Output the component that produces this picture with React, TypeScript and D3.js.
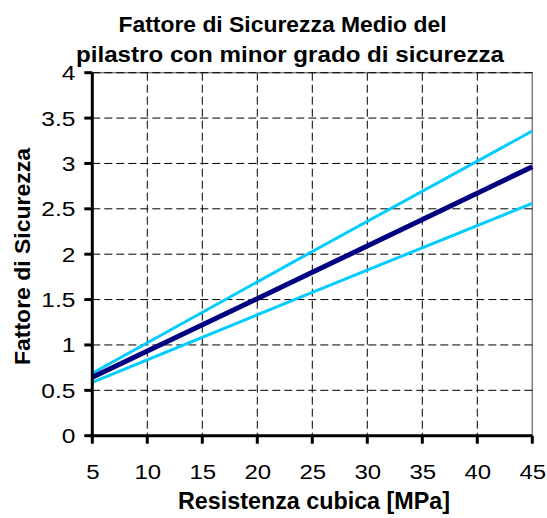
import React from "react";
import * as d3 from "d3";

const xTicks = [5, 10, 15, 20, 25, 30, 35, 40, 45];
const yTicks = [0, 0.5, 1, 1.5, 2, 2.5, 3, 3.5, 4];
const resistenza = [5, 25, 45];
const fsMedio = [0.643, 1.8, 2.964];
const fsSuperiore = [0.688, 2.03, 3.357];
const fsInferiore = [0.588, 1.58, 2.561];
const titleLines = ["Fattore di Sicurezza Medio del", "pilastro con minor grado di sicurezza"];
const xTitle = "Resistenza cubica [MPa]";
const yTitle = "Fattore di Sicurezza";

const W = 547;
const H = 518;
const left = 92.3;
const right = 532.3;
const top = 72.7;
const bottom = 435.7;

export default function App() {
  const x = d3.scaleLinear().domain([5, 45]).range([left, right]);
  const y = d3.scaleLinear().domain([0, 4]).range([bottom, top]);
  const line = d3
    .line<[number, number]>()
    .x((d) => x(d[0]))
    .y((d) => y(d[1]));
  const mk = (vals: number[]) => line(resistenza.map((r, i) => [r, vals[i]] as [number, number])) || "";
  const font = "'Liberation Sans', Arial, sans-serif";
  const sx = 1.17;

  return (
    <svg
      width={W}
      height={H}
      style={{ position: "absolute", left: 0, top: 0, background: "#fff" }}
      fontFamily={font}
    >
      <rect x={0} y={0} width={W} height={H} fill="#fff" />
      {/* title */}
      <text x={282.5} y={31.5} textAnchor="middle" fontSize={22.5} fontWeight="bold" textLength={328} lengthAdjust="spacingAndGlyphs">
        {titleLines[0]}
      </text>
      <text x={290} y={62} textAnchor="middle" fontSize={22.5} fontWeight="bold" textLength={428} lengthAdjust="spacingAndGlyphs">
        {titleLines[1]}
      </text>
      {/* plot border */}
      <rect x={left} y={top} width={right - left} height={bottom - top} fill="none" stroke="#808080" strokeWidth={1.5} />
      {/* grid */}
      {yTicks.slice(1).map((t) => (
        <line key={"gy" + t} x1={left} x2={right} y1={y(t)} y2={y(t)} stroke="#000" strokeWidth={1} strokeDasharray="8,4" />
      ))}
      {xTicks.slice(1, -1).map((t) => (
        <line key={"gx" + t} x1={x(t)} x2={x(t)} y1={top} y2={bottom} stroke="#000" strokeWidth={1} strokeDasharray="8,4" />
      ))}
      {/* series */}
      <path d={mk(fsSuperiore)} fill="none" stroke="#00CCFF" strokeWidth={3} />
      <path d={mk(fsInferiore)} fill="none" stroke="#00CCFF" strokeWidth={3} />
      <path d={mk(fsMedio)} fill="none" stroke="#000080" strokeWidth={5} />
      {/* axes */}
      <line x1={left} x2={left} y1={top} y2={bottom + 1.5} stroke="#000" strokeWidth={3} />
      <line x1={left - 1.5} x2={right} y1={bottom} y2={bottom} stroke="#000" strokeWidth={3} />
      {yTicks.map((t) => (
        <g key={"yt" + t}>
          <line x1={left - 8} x2={left} y1={y(t)} y2={y(t)} stroke="#000" strokeWidth={3} />
          <text transform={`translate(75.5, ${y(t) + 7.5}) scale(${sx},1)`} textAnchor="end" fontSize={21}>
            {t}
          </text>
        </g>
      ))}
      {xTicks.map((t) => (
        <g key={"xt" + t}>
          <line x1={x(t)} x2={x(t)} y1={bottom} y2={bottom + 8} stroke="#000" strokeWidth={3} />
          <text transform={`translate(${x(t) + 0.5}, 479) scale(${sx},1)`} textAnchor="middle" fontSize={20.5}>
            {t}
          </text>
        </g>
      ))}
      <text x={314} y={508.5} textAnchor="middle" fontSize={23} fontWeight="bold" textLength={272} lengthAdjust="spacingAndGlyphs">
        {xTitle}
      </text>
      <text
        transform={`translate(30, 256.5) rotate(-90)`}
        textAnchor="middle"
        fontSize={22.5}
        fontWeight="bold"
        textLength={217}
        lengthAdjust="spacingAndGlyphs"
      >
        {yTitle}
      </text>
    </svg>
  );
}
